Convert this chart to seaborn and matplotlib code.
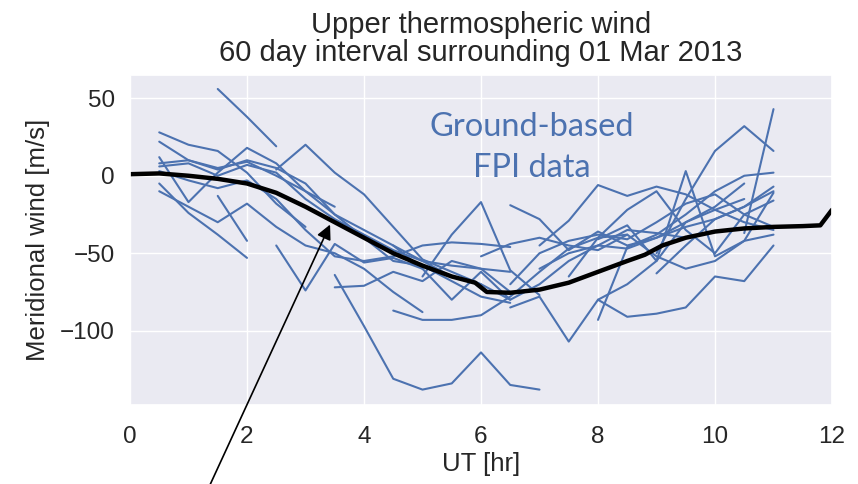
import numpy as np
import pandas as pd
import matplotlib
matplotlib.use("Agg")
import matplotlib.pyplot as plt
import seaborn as sns

# Nightly FPI meridional wind segments: start time [UT hr] and values every 0.5 hr [m/s]
night_starts = [0.5, 1.5, 0.5, 0.5, 0.5, 0.5, 2.5, 0.5, 0.5, 1.5, 0.5, 2.5, 3.5, 3.5, 4.5, 4.5,
                6.5, 5.0, 7.0, 6.5, 8.0, 8.0, 9.0, 8.0, 10.5, 6.0, 7.0, 9.0, 6.5, 7.5]
night_winds = [
    [28, 20, 16, 2, -18, -33],
    [56, 38, 19],
    [22, 10, 5, 9, 0, -10, -25, -35, -45, -55, -58, -60, -62],
    [-5, -24, -38, -53],
    [-10, -20, -30, -18, -33, -45, -50, -60, -75, -88],
    [12, -17, 2, 18, 8, -10, -20],
    [4, 20, 2, -12, -33, -54, -62, -70, -80],
    [8, 10, 4, 10, 5, -5, -25, -40, -55, -58, -68, -78, -82],
    [3, -3, -8, -3, -15, -35, -52, -55, -52, -45, -43, -44, -46],
    [-13, -42],
    [6, 8, 0, 7, 2, -15, -28, -38, -48, -55, -65, -70],
    [-45, -74, -44, -56, -53, -60],
    [-64, -97, -131, -138, -134, -114, -135, -138],
    [-72, -71, -62, -68, -55, -60, -75],
    [-87, -93, -93, -90, -78, -62, -47, -40, -38],
    [-45, -60, -80, -62, -80, -70, -55, -45, -35, -37, -40],
    [-19, -28, -48, -36, -45, -40, -30, -22, -15],
    [-65, -38, -17, -61, -77],
    [-45, -29, -6, -13, -7, -12, -22, -30, -35],
    [-85, -78, -107, -80, -70, -55, -30, -20, -5],
    [-80, -91, -89, -85, -65, -68, -45],
    [-93, -46, -38, -25, -10, 0, 2],
    [-50, -15, 16, 32, 16],
    [-41, -32, -55, 3, -52, -42, -38],
    [-37, 43],
    [-52, -44, -40, -45, -48, -38, -52, -60, -55, -42, -11],
    [-60, -50, -45, -47, -40, -33, -28, -20, -10],
    [-63, -45, -28, -20, -7],
    [-70, -50, -42, -38, -41, -30, -18, -12, -25, -33],
    [-65, -40, -22, -10, -35, -50, -25, -16],
]

# Model meridional wind
model_ut = [0, 0.5, 1, 1.5, 2, 2.5, 3, 3.5, 4, 4.5, 5, 5.5, 5.9, 6.1, 6.5, 7, 7.5, 8,
            8.5, 8.8, 9.1, 9.5, 10, 10.5, 11, 11.5, 11.8, 12]
model_wind = [1, 1.5, 0, -2, -5, -11, -20, -30, -40, -50, -58, -65, -69, -75, -75.5, -73.5,
              -69, -62, -55, -51, -45, -40, -36, -34, -33, -32.5, -32, -22]

title = "Upper thermospheric wind\n60 day interval surrounding 01 Mar 2013"
fpi_label = "Ground-based\nFPI data"

sns.set_theme(style="darkgrid")
plt.rcParams["font.family"] = ["Liberation Sans", "DejaVu Sans"]

blue = sns.color_palette("deep")[0]

rows = []
for k, (t0, vals) in enumerate(zip(night_starts, night_winds)):
    for i, v in enumerate(vals):
        rows.append({"night": k, "ut": t0 + 0.5 * i, "wind": v})
fpi = pd.DataFrame(rows)
model = pd.DataFrame({"ut": model_ut, "wind": model_wind})

fig = plt.figure(figsize=(8.58, 4.84), dpi=100)
ax = fig.add_axes([0.1515, 0.163, 0.8182, 0.682])

sns.lineplot(data=fpi, x="ut", y="wind", units="night", estimator=None,
             color=blue, lw=1.5, ax=ax, legend=False)
sns.lineplot(data=model, x="ut", y="wind", color="black", lw=3.2, ax=ax,
             legend=False, sort=False)

ax.set_xlim(0, 12)
ax.set_ylim(-148, 65)
ax.set_xticks(range(0, 13, 2))
ax.set_yticks([-100, -50, 0, 50])
ax.tick_params(labelsize=17.5, colors="#262626")
ax.tick_params(axis="x", pad=9)
ax.tick_params(axis="y", pad=5)
ax.set_xlabel("UT [hr]", fontsize=18.5, labelpad=3)
ax.set_ylabel("Meridional wind [m/s]", fontsize=18.5, labelpad=7)
ax.set_title(title, fontsize=21, linespacing=1.0, pad=10)

ax.text(6.87, 18, fpi_label, color=blue, fontsize=23.5, ha="center", va="center",
        family=["Lato", "DejaVu Sans"], linespacing=1.45)

ax.annotate("", xy=(3.42, -31.5), xytext=(1.3, -205), annotation_clip=False,
            arrowprops=dict(arrowstyle="-|>", color="black", lw=1.2,
                            mutation_scale=22, shrinkA=0, shrinkB=0))

fig.savefig("out.png", dpi=100)
